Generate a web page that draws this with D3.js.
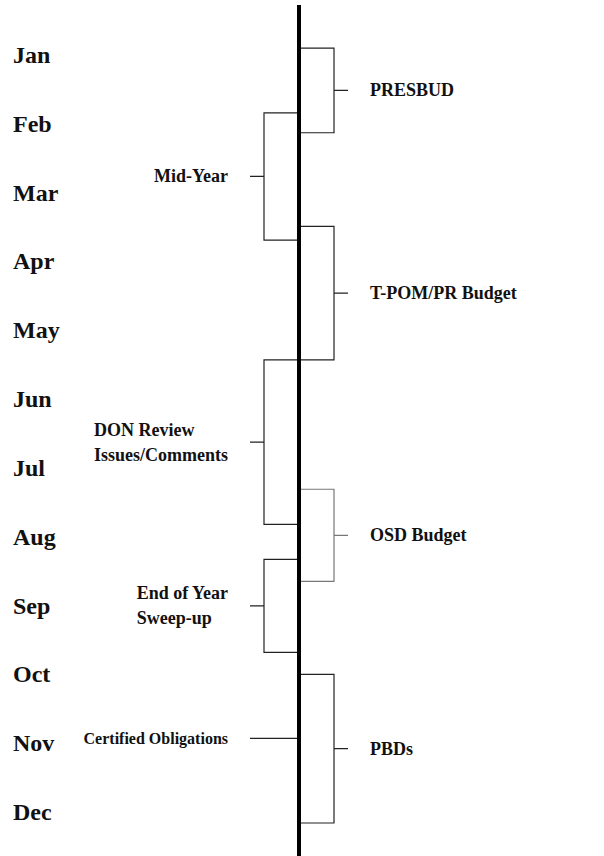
<!DOCTYPE html>
<html>
<head>
<meta charset="utf-8">
<script src="https://cdn.jsdelivr.net/npm/d3@7"></script>
<style>
  body { margin: 0; background: #fff; }
  text { font-family: "Liberation Serif", "Times New Roman", serif; font-weight: bold; fill: #111; }
</style>
</head>
<body>
<div id="chart"></div>
<script>
// months down the timeline
const months = ['Jan', 'Feb', 'Mar', 'Apr', 'May', 'Jun', 'Jul', 'Aug', 'Sep', 'Oct', 'Nov', 'Dec'];

// bracketed phases (month position, Jan = 1)
const phaseNames = [['PRESBUD'], ['Mid-Year'], ['T-POM/PR Budget'], ['DON Review', 'Issues/Comments'],
    ['OSD Budget'], ['End of Year', 'Sweep-up'], ['PBDs']];
const phaseStart = [0.90, 1.84, 3.49, 5.43, 7.31, 8.33, 10.00];
const phaseEnd = [2.13, 3.69, 5.43, 7.82, 8.65, 9.68, 12.16];
const phaseSide = ['right', 'left', 'right', 'left', 'right', 'left', 'right'];

// single point events
const eventNames = ['Certified Obligations'];
const eventAt = [10.93];

const width = 604, height = 856;
const axisX = 299;
const armLen = 35, tickLen = 14;

let svg = d3.select('#chart').append('svg')
    .attr('width', width)
    .attr('height', height);

let y = d3.scaleLinear()
    .domain([1, 12])
    .range([55, 812]);

// Month labels
svg.append('g').selectAll('text')
    .data(months)
    .enter().append('text')
    .attr('x', 13)
    .attr('y', (d, i) => y(i + 1) + 8)
    .attr('font-size', '24px')
    .text(d => d);

// Brackets
let phases = phaseNames.map((name, i) => ({
    lines: name,
    start: phaseStart[i],
    end: phaseEnd[i],
    side: phaseSide[i]
}));

let bracket = svg.append('g').selectAll('g')
    .data(phases)
    .enter().append('g');

bracket.append('path')
    .attr('fill', 'none')
    .attr('stroke', (d, i) => i === 4 ? '#777' : '#222')
    .attr('stroke-width', 1.2)
    .attr('d', d => {
        let dir = d.side === 'right' ? 1 : -1;
        let bx = axisX + dir * armLen;
        let y0 = y(d.start), y1 = y(d.end), ym = (y0 + y1) / 2;
        return `M ${axisX} ${y0} H ${bx} V ${y1} H ${axisX}` +
               ` M ${bx} ${ym} H ${bx + dir * tickLen}`;
    });

bracket.each(function(d) {
    let g = d3.select(this);
    let ym = (y(d.start) + y(d.end)) / 2;
    let lineH = 25;
    let top = ym - (d.lines.length - 1) * lineH / 2;
    let txt = g.append('text')
        .attr('font-size', '18px')
        .attr('dominant-baseline', 'central');
    let spans = txt.selectAll('tspan')
        .data(d.lines)
        .enter().append('tspan')
        .attr('y', (l, i) => top + i * lineH)
        .text(l => l);
    if (d.side === 'right') {
        spans.attr('x', axisX + armLen + 36);
    } else {
        let maxW = d3.max(spans.nodes(), n => n.getComputedTextLength());
        spans.attr('x', axisX - armLen - tickLen - 22 - maxW);
    }
});

// Point events
let events = svg.append('g').selectAll('g')
    .data(eventNames.map((n, i) => ({name: n, at: eventAt[i]})))
    .enter().append('g');

events.append('line')
    .attr('x1', axisX - armLen - tickLen)
    .attr('x2', axisX)
    .attr('y1', d => y(d.at))
    .attr('y2', d => y(d.at))
    .attr('stroke', '#222')
    .attr('stroke-width', 1.2);

events.append('text')
    .attr('x', axisX - armLen - tickLen - 22)
    .attr('y', d => y(d.at))
    .attr('text-anchor', 'end')
    .attr('dominant-baseline', 'central')
    .attr('font-size', '16px')
    .text(d => d.name);

// Main timeline
svg.append('line')
    .attr('x1', axisX)
    .attr('x2', axisX)
    .attr('y1', 5)
    .attr('y2', height)
    .attr('stroke', '#000')
    .attr('stroke-width', 4);
</script>
</body>
</html>
